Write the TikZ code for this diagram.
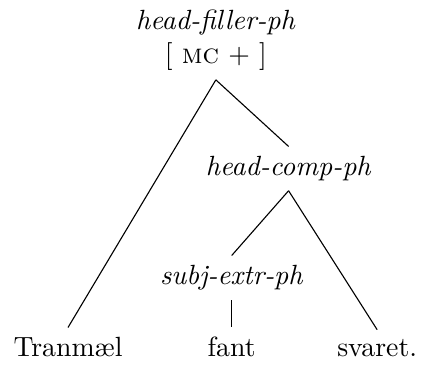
\documentclass[tikz,border=0pt]{standalone}
\begin{document}
\begin{tikzpicture}[every node/.style={inner sep=3.33pt}]
  \useasboundingbox (0,0) rectangle (5.35,4.61);
  \node[anchor=south,align=center] (hfph) at (2.73,3.60)
    {\textit{head-filler-ph}\\ $[$\ \textsc{mc} $+$ $]$};
  \node[anchor=base] (hcph) at (3.65,2.39) {\textit{head-comp-ph}};
  \node[anchor=base] (seph) at (2.93,1.01) {\textit{subj-extr-ph}};
  \node[anchor=base] (tranmael) at (0.86,0.10) {Tranmæl};
  \node[anchor=base] (fant) at (2.93,0.10) {fant};
  \node[anchor=base] (svaret) at (4.77,0.10) {svaret.};
  \draw (hfph.south) -- (tranmael.north);
  \draw (hfph.south) -- (hcph.north);
  \draw (hcph.south) -- (seph.north);
  \draw (hcph.south) -- (svaret.north);
  \draw (seph.south) -- (fant.north);
\end{tikzpicture}
\end{document}
